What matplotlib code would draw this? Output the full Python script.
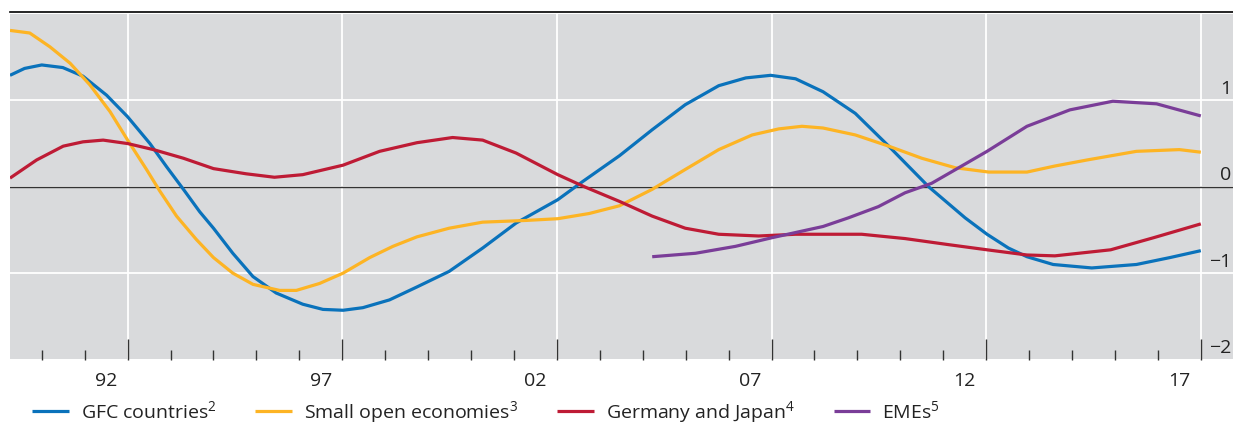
import matplotlib
matplotlib.use("Agg")
import matplotlib.pyplot as plt
import matplotlib.transforms as mtransforms
from matplotlib.lines import Line2D

plt.rcParams['font.family'] = ['Open Sans', 'DejaVu Sans']
plt.rcParams['mathtext.fontset'] = 'custom'
plt.rcParams['mathtext.rm'] = 'Open Sans'
plt.rcParams['mathtext.it'] = 'Open Sans'

# --- data (decimal years, standardised values) ---
gfc_x = [1990.26, 1990.6, 1991.0, 1991.49, 1991.96, 1992.51, 1993.0, 1993.52, 1993.91,
         1994.3, 1994.68, 1995.0, 1995.45, 1995.92, 1996.46, 1997.08, 1997.55, 1998.02,
         1998.48, 1999.1, 1999.74, 2000.49, 2001.27, 2002.05, 2003.02, 2003.6, 2004.46,
         2005.22, 2005.99, 2006.77, 2007.4, 2007.98, 2008.56, 2009.2, 2009.95, 2010.73,
         2011.66, 2012.51, 2013.02, 2013.52, 2013.95, 2014.56, 2015.46, 2016.5, 2017.28, 2018.0]
gfc_y = [1.29, 1.37, 1.41, 1.38, 1.28, 1.06, 0.81, 0.50, 0.23,
         -0.03, -0.29, -0.48, -0.77, -1.04, -1.23, -1.36, -1.42, -1.43,
         -1.40, -1.31, -1.16, -0.98, -0.71, -0.42, -0.15, 0.06, 0.36,
         0.66, 0.95, 1.17, 1.26, 1.29, 1.25, 1.10, 0.85, 0.47,
         0.00, -0.36, -0.55, -0.71, -0.81, -0.90, -0.94, -0.90, -0.82, -0.74]

soe_x = [1990.26, 1990.72, 1991.19, 1991.66, 1992.12, 1992.59, 1993.0, 1993.44, 1993.75,
         1994.14, 1994.6, 1995.0, 1995.45, 1995.92, 1996.54, 1996.93, 1997.47, 1998.02,
         1998.64, 1999.18, 1999.74, 2000.49, 2001.27, 2002.28, 2003.02, 2003.75, 2004.46,
         2005.22, 2005.99, 2006.77, 2007.55, 2008.17, 2008.71, 2009.2, 2009.95, 2010.73,
         2011.5, 2012.28, 2013.06, 2013.95, 2014.6, 2015.35, 2016.5, 2017.5, 2018.0]
soe_y = [1.81, 1.78, 1.62, 1.43, 1.18, 0.87, 0.54, 0.20, -0.05,
         -0.34, -0.61, -0.82, -1.00, -1.13, -1.20, -1.20, -1.12, -1.00,
         -0.82, -0.69, -0.58, -0.48, -0.41, -0.39, -0.37, -0.31, -0.22,
         -0.03, 0.20, 0.43, 0.60, 0.67, 0.70, 0.68, 0.60, 0.47,
         0.33, 0.22, 0.17, 0.17, 0.24, 0.31, 0.41, 0.43, 0.40]

deu_jpn_x = [1990.26, 1990.88, 1991.5, 1991.96, 1992.43, 1993.0, 1993.6, 1994.3, 1995.0,
             1995.76, 1996.42, 1997.08, 1998.02, 1998.87, 1999.74, 2000.57, 2001.27, 2002.05,
             2003.02, 2003.64, 2004.46, 2005.22, 2005.99, 2006.77, 2007.7, 2008.56, 2009.2,
             2010.1, 2011.11, 2012.12, 2013.02, 2013.95, 2014.6, 2015.9, 2016.9, 2018.0]
deu_jpn_y = [0.10, 0.31, 0.47, 0.52, 0.54, 0.50, 0.43, 0.33, 0.21,
             0.15, 0.11, 0.14, 0.25, 0.41, 0.51, 0.57, 0.54, 0.39,
             0.14, 0.00, -0.17, -0.34, -0.48, -0.55, -0.57, -0.55, -0.55,
             -0.55, -0.60, -0.67, -0.73, -0.79, -0.80, -0.73, -0.59, -0.43]

eme_x = [2005.22, 2006.23, 2007.16, 2008.01, 2009.2, 2009.79, 2010.49, 2011.11,
         2011.73, 2012.36, 2013.02, 2013.95, 2014.95, 2015.95, 2016.97, 2018.0]
eme_y = [-0.81, -0.77, -0.69, -0.59, -0.46, -0.36, -0.23, -0.07,
         0.04, 0.22, 0.41, 0.70, 0.89, 0.99, 0.96, 0.82]

labels = ["GFC countries$^{2}$", "Small open economies$^{3}$",
          "Germany and Japan$^{4}$", "EMEs$^{5}$"]
colors = ["#0a72bb", "#fdb424", "#be1b35", "#7a3d98"]

year_label_pos = [1992.5, 1997.5, 2002.5, 2007.5, 2012.5, 2017.5]
year_labels = ["92", "97", "02", "07", "12", "17"]
grid_years = [1993, 1998, 2003, 2008, 2013, 2018]
minor_years = list(range(1991, 2019))
y_vals = [1, 0, -1, -2]
y_labels = ["1", "0", "\u22121", "\u22122"]

W, H = 1233, 425
fig = plt.figure(figsize=(W / 100, H / 100), dpi=100)
ax = fig.add_axes([10 / W, 1 - 359.5 / H, 1223 / W, (359.5 - 14) / H])
ax.set_facecolor("#d9dadc")
ax.set_xlim(1990.26, 2018.75)
ax.set_ylim(-2, 2)
for s in ax.spines.values():
    s.set_visible(False)

# gridlines
ax.set_xticks(grid_years)
ax.set_xticks(minor_years, minor=True)
ax.set_yticks([-1, 0, 1])
ax.grid(True, which='major', color='white', linewidth=1.3, zorder=0)
ax.set_axisbelow(True)
ax.axhline(0, color='#333333', linewidth=1.0, zorder=1)

ax.tick_params(axis='x', which='major', direction='in', length=15, width=1.0,
               color='#333333', labelbottom=False)
ax.tick_params(axis='x', which='minor', direction='in', length=7.5, width=1.0,
               color='#333333')
ax.tick_params(axis='y', which='both', length=0, labelleft=False)

# year labels centred in each year
sec = ax.secondary_xaxis('bottom')
sec.set_xticks(year_label_pos, year_labels)
sec.tick_params(length=0, pad=9, labelsize=14, labelcolor='#222222')
for s in sec.spines.values():
    s.set_visible(False)

# y labels sitting just above gridlines on the right edge
trans = mtransforms.blended_transform_factory(ax.transAxes, ax.transData)
for v, lab in zip(y_vals, y_labels):
    ax.text(0.9985, v + 0.03, lab, transform=trans, ha='right', va='bottom',
            fontsize=14, color='#222222', clip_on=False)

series = [(gfc_x, gfc_y), (soe_x, soe_y), (deu_jpn_x, deu_jpn_y), (eme_x, eme_y)]
for (xs, ys), lab, c in zip(series, labels, colors):
    ax.plot(xs, ys, color=c, linewidth=2.3, label=lab, zorder=3,
            solid_capstyle='butt', solid_joinstyle='round')

# top rule
fig.add_artist(Line2D([10 / W, 1], [1 - 12 / H] * 2, color='black', linewidth=1.2))

handles, labs = ax.get_legend_handles_labels()
fig.legend(handles, labs, ncol=4, loc='center left',
           bbox_to_anchor=(32 / W, 1 - 412 / H), frameon=False,
           fontsize=14, handlelength=1.9, handletextpad=0.6, columnspacing=2.0,
           borderpad=0, borderaxespad=0, labelcolor='#222222')

fig.savefig("out.png", dpi=100)
